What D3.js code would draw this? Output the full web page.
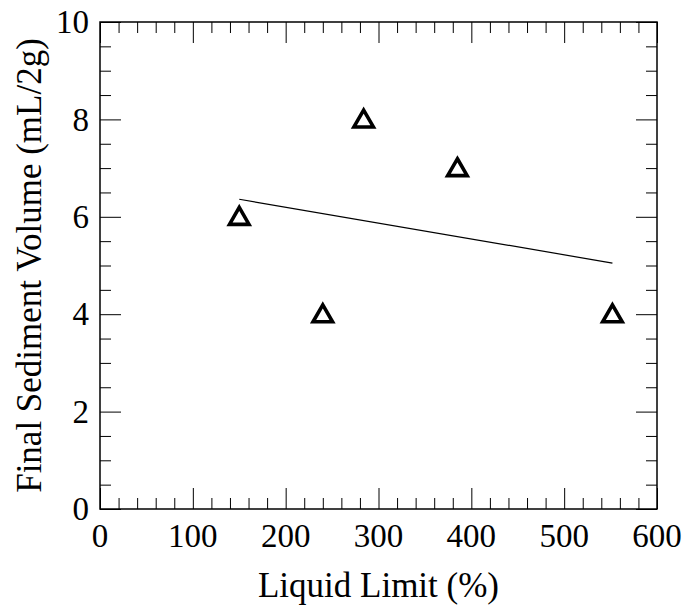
<!DOCTYPE html>
<html>
<head>
<meta charset="utf-8">
<script src="https://cdn.jsdelivr.net/npm/d3@7"></script>
<style>
  html, body { margin: 0; padding: 0; background: #fff; }
  svg text { font-family: "Liberation Serif", "Times New Roman", serif; fill: #000; }
</style>
</head>
<body>
<svg id="chart" width="689" height="608"></svg>
<script>
// Data
const liquidLimit = [150, 240, 284, 385, 552];
const sedimentVolume = [6, 4, 8, 7, 4];
const fitX = [150, 552];
const fitY = [6.36, 5.05];
const xTicks = [0, 100, 200, 300, 400, 500, 600];
const yTicks = [0, 2, 4, 6, 8, 10];
const xLabel = "Liquid Limit (%)";
const yLabel = "Final Sediment Volume (mL/2g)";

const svg = d3.select("#chart");
const m = { left: 100, top: 22, right: 32, bottom: 99 };
const W = 689, H = 608;
const iw = W - m.left - m.right, ih = H - m.top - m.bottom;

const x = d3.scaleLinear().domain([0, 600]).range([m.left, m.left + iw]);
const y = d3.scaleLinear().domain([0, 10]).range([m.top + ih, m.top]);

const majorLen = 21, minorLen = 11;
const xMinor = d3.range(0, 601, 20).filter(v => v % 100 !== 0);
const yMinor = d3.range(0, 10.01, 0.5).filter(v => Math.abs(v % 2) > 1e-9);

function tickAxis(axisFn, scale, major, minor, transform) {
  const gMaj = svg.append("g").attr("transform", transform)
    .call(axisFn(scale).tickValues(major).tickSize(-majorLen).tickFormat(""));
  const gMin = svg.append("g").attr("transform", transform)
    .call(axisFn(scale).tickValues(minor).tickSize(-minorLen).tickFormat(""));
  [gMaj, gMin].forEach(g => {
    g.select(".domain").remove();
    g.selectAll("line").attr("stroke", "#000").attr("stroke-width", 1);
  });
}

tickAxis(d3.axisBottom, x, xTicks, xMinor, `translate(0,${m.top + ih})`);
tickAxis(d3.axisTop, x, xTicks, xMinor, `translate(0,${m.top})`);
tickAxis(d3.axisLeft, y, yTicks, yMinor, `translate(${m.left},0)`);
tickAxis(d3.axisRight, y, yTicks, yMinor, `translate(${m.left + iw},0)`);

// frame
svg.append("rect")
  .attr("x", m.left).attr("y", m.top).attr("width", iw).attr("height", ih)
  .attr("fill", "none").attr("stroke", "#000").attr("stroke-width", 1.5);

// tick labels
svg.append("g").selectAll("text").data(xTicks).join("text")
  .attr("x", d => x(d)).attr("y", 547)
  .attr("text-anchor", "middle").attr("font-size", 33)
  .text(d => d);
svg.append("g").selectAll("text").data(yTicks).join("text")
  .attr("x", 89).attr("y", d => y(d)).attr("dy", "0.34em")
  .attr("text-anchor", "end").attr("font-size", 33)
  .text(d => d);

// axis titles
svg.append("text")
  .attr("x", m.left + iw / 2).attr("y", 597)
  .attr("text-anchor", "middle").attr("font-size", 35)
  .text(xLabel);
svg.append("text")
  .attr("transform", `translate(41,${m.top + ih / 2}) rotate(-90)`)
  .attr("text-anchor", "middle").attr("font-size", 35)
  .text(yLabel);

// fit line
svg.append("line")
  .attr("x1", x(fitX[0])).attr("y1", y(fitY[0]))
  .attr("x2", x(fitX[1])).attr("y2", y(fitY[1]))
  .attr("stroke", "#000").attr("stroke-width", 1.2);

// triangle markers
const s = 19.5, h = s * Math.sqrt(3) / 2;
const off = 0.9;
const tri = `M0,${-h / 2 - off}L${s / 2},${h / 2 - off}L${-s / 2},${h / 2 - off}Z`;
svg.append("g").selectAll("path").data(liquidLimit.map((d, i) => [d, sedimentVolume[i]])).join("path")
  .attr("transform", d => `translate(${x(d[0])},${y(d[1])})`)
  .attr("d", tri)
  .attr("fill", "none").attr("stroke", "#000").attr("stroke-width", 3.6)
  .attr("stroke-linejoin", "miter");
</script>
</body>
</html>
